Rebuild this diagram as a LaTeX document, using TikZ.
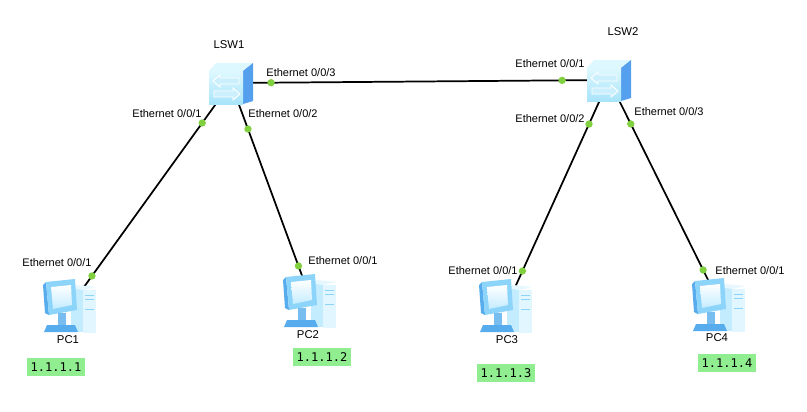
\documentclass[tikz,border=0pt]{standalone}
\usepackage{fontspec}
\setmainfont{Liberation Sans}
\setmonofont{DejaVu Sans Mono}
\usepackage{tikz}
\usetikzlibrary{positioning}

\definecolor{portgreen}{RGB}{128,208,64}
\definecolor{ipgreen}{RGB}{144,238,144}
\definecolor{swfront}{RGB}{168,228,250}
\definecolor{swtop}{RGB}{222,248,255}
\definecolor{swside}{RGB}{84,160,238}
\definecolor{pclight}{RGB}{196,236,255}
\definecolor{pcmid}{RGB}{140,212,250}
\definecolor{pcdark}{RGB}{86,172,236}

\newcommand{\swicon}[1]{%
  \begin{scope}[shift={(#1)}]
    \fill[swtop] (-22,-12) -- (-15,-20) -- (22,-20) -- (12,-12) -- cycle;
    \fill[swside] (12,-12) -- (22,-20) -- (22,18) -- (12,21) -- cycle;
    \shade[top color=swtop,bottom color=swfront] (-22,-12) rectangle (12,21);
    \draw[white,line width=0.7pt,fill=swfront!60!white] (-18,-2) -- (-11,-8) -- (-11,-5) -- (8,-5) -- (8,1) -- (-11,1) -- (-11,4) -- cycle;
    \draw[white,line width=0.7pt,fill=swfront!60!white] (9,11) -- (2,5) -- (2,8) -- (-17,8) -- (-17,14) -- (2,14) -- (2,17) -- cycle;
  \end{scope}}

\newcommand{\pcicon}[1]{%
  \begin{scope}[shift={(#1)}]
    % tower
    \fill[pclight] (0,-17) rectangle (12,27);
    \fill[pclight!50!white] (12,-15) rectangle (25,28);
    \fill[white!60!pclight] (0,-17) -- (6,-20) -- (25,-18) -- (12,-15) -- cycle;
    \draw[pcmid,line width=0.6pt] (14,-10) -- (23,-10) (14,-6) -- (23,-6) (14,4) -- (23,4);
    % monitor
    \fill[pcdark] (-28,-20) -- (-25,-23) -- (-22,10) -- (-26,8) -- cycle;
    \fill[pcmid] (-25,-23) -- (4,-26) -- (6,5) -- (-22,10) -- cycle;
    \shade[top color=white,bottom color=pclight] (-20,-18) -- (0,-20) -- (1,0) -- (-18,4) -- cycle;
    \fill[pcdark!80!white] (-13,8) rectangle (-5,20);
    \fill[pcdark] (-24,20) -- (4,20) -- (7,27) -- (-27,27) -- cycle;
  \end{scope}}

\begin{document}
\begin{tikzpicture}[x=0.75pt,y=-0.75pt,
  device/.style={minimum width=39pt,minimum height=36pt,inner sep=0pt},
  link/.style={line width=1.3pt,black},
  port/.style={circle,fill=portgreen,inner sep=0pt,minimum size=5.5pt},
  portlbl/.style={font=\fontsize{8.25}{10}\selectfont,inner sep=0pt},
  devlbl/.style={font=\fontsize{8.5}{10}\selectfont,inner sep=0pt},
  iplbl/.style={fill=ipgreen,font=\ttfamily\fontsize{9}{10}\selectfont,minimum width=43pt,minimum height=13pt,inner sep=1pt}]
  \useasboundingbox[fill=white] (0,0) rectangle (807,411);

  % devices
  \node[device] (sw1) at (231,83) {};
  \node[device] (sw2) at (609,80) {};
  \node[device] (pc1) at (71,305) {};
  \node[device] (pc2) at (311,300) {};
  \node[device] (pc3) at (507,305) {};
  \node[device] (pc4) at (720,304) {};

  % links
  \draw[link] (sw1.center) -- (sw2.center) node[port,pos=0.106](a3){} node[port,pos=0.876](b1){};
  \draw[link] (sw1.center) -- (pc1.center) node[port,pos=0.180](a1){} node[port,pos=0.869](p1){};
  \draw[link] (sw1.center) -- (pc2.center) node[port,pos=0.212](a2){} node[port,pos=0.843](p2){};
  \draw[link] (sw2.center) -- (pc3.center) node[port,pos=0.196](b2){} node[port,pos=0.849](p3){};
  \draw[link] (sw2.center) -- (pc4.center) node[port,pos=0.196](b3){} node[port,pos=0.848](p4){};

  \swicon{sw1}
  \swicon{sw2}
  \pcicon{pc1}
  \pcicon{pc2}
  \pcicon{pc3}
  \pcicon{pc4}

  % names
  \node[devlbl] (sw1name) at (229,45) {LSW1};
  \node[devlbl] (sw2name) at (623,32) {LSW2};
  \node[devlbl] (pc1name) at (68,340) {PC1};
  \node[devlbl] (pc2name) at (308,335) {PC2};
  \node[devlbl] (pc3name) at (507,340) {PC3};
  \node[devlbl] (pc4name) at (717,338) {PC4};

  % port labels
  \node[portlbl] (a1lbl) at (167,114) {Ethernet 0/0/1};
  \node[portlbl] (a2lbl) at (283,114) {Ethernet 0/0/2};
  \node[portlbl] (a3lbl) at (301,73) {Ethernet 0/0/3};
  \node[portlbl] (b1lbl) at (550,64) {Ethernet 0/0/1};
  \node[portlbl] (b2lbl) at (550,119) {Ethernet 0/0/2};
  \node[portlbl] (b3lbl) at (669,112) {Ethernet 0/0/3};
  \node[portlbl] (p1lbl) at (57,263) {Ethernet 0/0/1};
  \node[portlbl] (p2lbl) at (343,261) {Ethernet 0/0/1};
  \node[portlbl] (p3lbl) at (483,271) {Ethernet 0/0/1};
  \node[portlbl] (p4lbl) at (750,271) {Ethernet 0/0/1};

  % addresses
  \node[iplbl] (ip1) at (56,367) {1.1.1.1};
  \node[iplbl] (ip2) at (322,357) {1.1.1.2};
  \node[iplbl] (ip3) at (506,373) {1.1.1.3};
  \node[iplbl] (ip4) at (727,363) {1.1.1.4};
\end{tikzpicture}
\end{document}
